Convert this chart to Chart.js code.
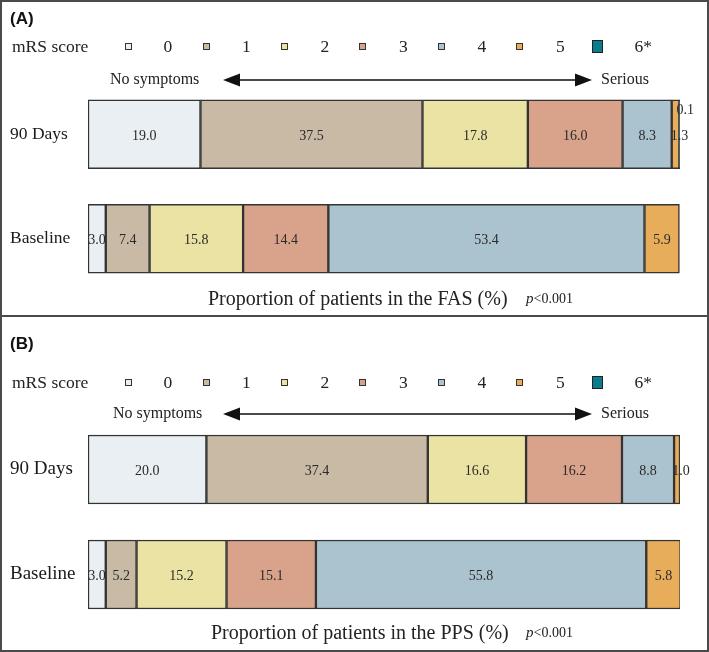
<!DOCTYPE html>
<html><head><meta charset="utf-8">
<script src="https://cdn.jsdelivr.net/npm/chart.js@4"></script>
<style>
body{margin:0;background:#fff;}
#page{position:relative;width:709px;height:652px;overflow:hidden;font-family:"Liberation Serif",serif;color:#222;}
.t{position:absolute;white-space:nowrap;}
canvas{position:absolute;left:0;}
.frame{position:absolute;left:0;top:0;width:709px;height:652px;box-sizing:border-box;border:2px solid #4a4a4a;pointer-events:none;}
.divider{position:absolute;left:0;top:315px;width:709px;height:2px;background:#4a4a4a;}
.sq{position:absolute;box-sizing:border-box;border:1px solid #333;}
</style></head><body><div id="page"></div>
<script>
// ---- data ----
const categories = ['90 Days', 'Baseline'];
const scoreLabels = ['0', '1', '2', '3', '4', '5', '6*'];
const scoreColors = ['#e9eff2', '#c8baa5', '#ebe3a3', '#d9a38b', '#abc3cf', '#e8ad5a', '#0b7b8e'];
const fas90Days   = [19.0, 37.5, 17.8, 16.0, 8.3, 1.3, 0.1];
const fasBaseline = [3.0, 7.4, 15.8, 14.4, 53.4, 5.9, 0];
const pps90Days   = [20.0, 37.4, 16.6, 16.2, 8.8, 1.0, 0];
const ppsBaseline = [3.0, 5.2, 15.2, 15.1, 55.8, 5.8, 0];
const fasTitle = 'Proportion of patients in the FAS (%)';
const ppsTitle = 'Proportion of patients in the PPS (%)';
const pText = '<0.001';

const page = document.getElementById('page');

function text(str, left, cy, font, extra) {
  const d = document.createElement('div');
  d.className = 't';
  d.textContent = str;
  d.style.font = font;
  d.style.left = left + 'px';
  d.style.top = (cy - 12) + 'px';
  d.style.lineHeight = '24px';
  d.style.height = '24px';
  if (extra) Object.assign(d.style, extra);
  page.appendChild(d);
  return d;
}

const valueLabels = {
  id: 'valueLabels',
  afterDatasetsDraw(chart) {
    const ctx = chart.ctx;
    ctx.save();
    ctx.font = '14px "Liberation Serif"';
    ctx.fillStyle = '#2a2a2a';
    ctx.textBaseline = 'middle';
    chart.data.datasets.forEach((ds, di) => {
      const meta = chart.getDatasetMeta(di);
      meta.data.forEach((bar, i) => {
        const v = ds.data[i];
        if (!v) return;
        const p = bar.getProps(['x', 'y', 'base', 'height'], true);
        const left = Math.min(p.x, p.base), right = Math.max(p.x, p.base), w = right - left;
        const txt = v.toFixed(1);
        if (w < 3) {
          ctx.textAlign = 'left';
          ctx.fillText(txt, left - 3, p.y - p.height / 2 + 11);
        } else if (w < 12 && di >= 5) {
          ctx.textAlign = 'center';
          ctx.fillText(txt, (left + right) / 2 + 4, p.y + 2);
        } else {
          ctx.textAlign = 'center';
          ctx.fillText(txt, (left + right) / 2, p.y + 2);
        }
      });
    });
    ctx.restore();
  }
};

function panel(cfg) {
  const cv = document.createElement('canvas');
  cv.width = 709; cv.height = cfg.height;
  cv.style.top = cfg.top + 'px';
  cv.style.width = '709px'; cv.style.height = cfg.height + 'px';
  page.appendChild(cv);
  new Chart(cv, {
    type: 'bar',
    data: {
      labels: categories,
      datasets: scoreLabels.map((s, k) => ({
        label: s,
        data: [cfg.d90[k], cfg.dBase[k]],
        backgroundColor: scoreColors[k],
        borderColor: '#333',
        borderWidth: 1.5,
        borderSkipped: false,
        barThickness: 69
      }))
    },
    options: {
      indexAxis: 'y',
      responsive: false,
      animation: false,
      devicePixelRatio: 1,
      layout: { padding: { top: cfg.padTop, bottom: cfg.padBottom, left: 10, right: 29 } },
      plugins: { legend: { display: false }, tooltip: { enabled: false } },
      scales: {
        x: { stacked: true, min: 0, max: 100, display: false },
        y: {
          stacked: true,
          grid: { display: false },
          border: { display: false },
          ticks: { font: { family: 'Liberation Serif', size: cfg.yFont }, color: '#1a1a1a', crossAlign: 'far', padding: 0 },
          afterFit(s) { s.width = 78; }
        }
      }
    },
    plugins: [valueLabels]
  });

  // panel label
  text(cfg.label, 10, cfg.labelY, 'bold 17px "Liberation Sans"', { color: '#111' });
  // legend
  text('mRS score', 12, cfg.legendY, '17.5px "Liberation Serif"');
  scoreLabels.forEach((s, k) => {
    const sx = 128 + k * 78.3;
    const sq = document.createElement('div');
    sq.className = 'sq';
    const big = k === 6;
    const w = big ? 11 : 7, h = big ? 13 : 7;
    sq.style.width = w + 'px'; sq.style.height = h + 'px';
    sq.style.left = (sx - w / 2) + 'px';
    sq.style.top = (cfg.legendY - h / 2) + 'px';
    sq.style.background = scoreColors[k];
    if (big) sq.style.borderColor = '#222';
    page.appendChild(sq);
    text(s, 168 + k * 78.5 - 4.5, cfg.legendY, '17.5px "Liberation Serif"');
  });
  // arrow
  text('No symptoms', cfg.nsLeft, cfg.arrowY, '16px "Liberation Serif"');
  text('Serious', 601, cfg.arrowY, '16px "Liberation Serif"');
  const ns = 'http://www.w3.org/2000/svg';
  const svg = document.createElementNS(ns, 'svg');
  svg.setAttribute('width', '709'); svg.setAttribute('height', '20');
  svg.style.position = 'absolute'; svg.style.left = '0'; svg.style.top = (cfg.arrowY + 1 - 10) + 'px';
  svg.innerHTML = '<line x1="236" y1="10" x2="579" y2="10" stroke="#4a4a4a" stroke-width="2"/>' +
    '<polygon points="223,10 240,3.5 240,16.5" fill="#111"/>' +
    '<polygon points="592,10 575,3.5 575,16.5" fill="#111"/>';
  page.appendChild(svg);
  // axis title
  text(cfg.title, cfg.titleLeft, cfg.titleY, '20px "Liberation Serif"');
  const pd = text('', 526, cfg.titleY, '14px "Liberation Serif"');
  const pi = document.createElement('i'); pi.textContent = 'p'; pi.style.fontSize = '15px';
  pd.appendChild(pi);
  pd.appendChild(document.createTextNode(pText));
}

panel({ top: 0, height: 316, padTop: 82, padBottom: 25, d90: fas90Days, dBase: fasBaseline,
  label: '(A)', labelY: 19, legendY: 46, arrowY: 79, nsLeft: 110, title: fasTitle, titleLeft: 208, titleY: 298, yFont: 17.5 });
panel({ top: 316, height: 335, padTop: 101, padBottom: 24, d90: pps90Days, dBase: ppsBaseline,
  label: '(B)', labelY: 344, legendY: 382, arrowY: 413, nsLeft: 113, title: ppsTitle, titleLeft: 211, titleY: 632, yFont: 19 });

const fr = document.createElement('div'); fr.className = 'frame'; page.appendChild(fr);
const dv = document.createElement('div'); dv.className = 'divider'; page.appendChild(dv);
</script>
</body></html>
